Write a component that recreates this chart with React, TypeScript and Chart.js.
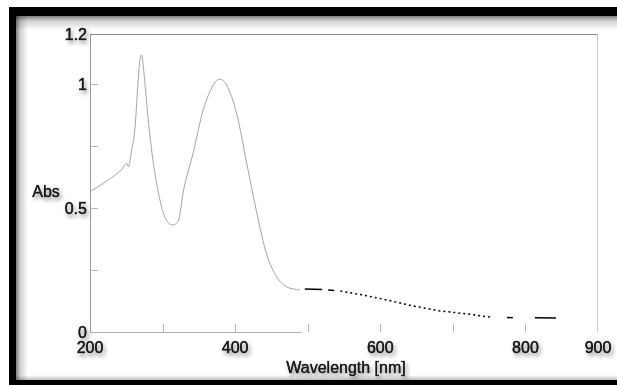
import React, { useEffect, useRef } from "react";
import { Chart, registerables } from "chart.js";

Chart.register(...registerables);

// Measured spectrum (grey solid part)
const solidWavelengths = [200, 225, 243, 251, 253, 257, 262, 265, 268, 271, 275, 280, 287, 294, 298, 303, 313, 322, 329, 342, 356, 370, 378, 388, 402, 416, 430, 443, 457, 471, 489];
const solidAbs = [0.565, 0.612, 0.652, 0.679, 0.666, 0.726, 0.82, 0.954, 1.075, 1.116, 1.023, 0.862, 0.686, 0.565, 0.511, 0.464, 0.431, 0.451, 0.572, 0.72, 0.894, 0.995, 1.018, 0.995, 0.881, 0.679, 0.478, 0.317, 0.223, 0.182, 0.169];

// Dashed continuation
const dashWavelengths = [496, 520, 545, 576, 609, 645, 682, 719, 751, 775, 813, 842];
const dashAbs = [0.173, 0.171, 0.165, 0.149, 0.129, 0.105, 0.085, 0.073, 0.06, 0.058, 0.057, 0.056];

const xTickLabels = [200, 400, 600, 800, 900];
const xMinorTicks = [300, 400, 500, 600, 700, 800];
const yTickLabels = [0, 0.5, 1, 1.2];
const yMinorTicks = [0.25, 0.5, 0.75, 1];

const xTitle = "Wavelength [nm]";
const yTitle = "Abs";

const FONT = '"Liberation Sans", Arial, sans-serif';

function shadowText(ctx: CanvasRenderingContext2D, text: string, x: number, y: number) {
  ctx.save();
  ctx.shadowColor = "rgba(0,0,0,0.6)";
  ctx.shadowBlur = 4;
  ctx.shadowOffsetX = 2;
  ctx.shadowOffsetY = 3;
  ctx.fillText(text, x, y);
  ctx.restore();
  ctx.strokeText(text, x, y);
  ctx.fillText(text, x, y);
}

const decorPlugin = {
  id: "decor",
  beforeDraw(chart: any) {
    const ctx = chart.ctx as CanvasRenderingContext2D;
    const W = chart.width;
    const H = chart.height;
    const ca = chart.chartArea;
    const xs = chart.scales.x;
    const ys = chart.scales.y;
    ctx.save();
    ctx.fillStyle = "#ffffff";
    ctx.fillRect(0, 0, W, H);

    // inner shadows of the frame
    let g = ctx.createLinearGradient(0, 16, 0, 30);
    g.addColorStop(0, "rgba(0,0,0,0.5)");
    g.addColorStop(0.35, "rgba(0,0,0,0.18)");
    g.addColorStop(1, "rgba(0,0,0,0)");
    ctx.fillStyle = g;
    ctx.fillRect(16, 16, W - 16, 14);
    g = ctx.createLinearGradient(16, 0, 28, 0);
    g.addColorStop(0, "rgba(0,0,0,0.5)");
    g.addColorStop(0.35, "rgba(0,0,0,0.18)");
    g.addColorStop(1, "rgba(0,0,0,0)");
    ctx.fillStyle = g;
    ctx.fillRect(16, 16, 12, H - 16);
    g = ctx.createLinearGradient(0, 380, 0, 375);
    g.addColorStop(0, "rgba(0,0,0,0.25)");
    g.addColorStop(1, "rgba(0,0,0,0)");
    ctx.fillStyle = g;
    ctx.fillRect(16, 375, W - 16, 5);

    // black frame
    ctx.fillStyle = "#000000";
    ctx.fillRect(9, 7, W - 9, 9);
    ctx.fillRect(9, 7, 7, H - 7);
    ctx.fillRect(9, 380, W - 9, 5);

    // plot box
    ctx.lineWidth = 1;
    ctx.strokeStyle = "#9a9a9a";
    ctx.beginPath();
    ctx.moveTo(ca.left + 0.5, ca.top);
    ctx.lineTo(ca.left + 0.5, ca.bottom);
    ctx.stroke();
    ctx.strokeStyle = "#8a8a8a";
    ctx.beginPath();
    ctx.moveTo(ca.left, ca.top + 0.5);
    ctx.lineTo(ca.right, ca.top + 0.5);
    ctx.stroke();
    ctx.strokeStyle = "#c4c4c4";
    ctx.beginPath();
    ctx.moveTo(ca.right - 0.5, ca.top);
    ctx.lineTo(ca.right - 0.5, ca.bottom);
    ctx.stroke();
    ctx.strokeStyle = "#b0b0b0";
    ctx.beginPath();
    ctx.moveTo(ca.left, ca.bottom + 0.5);
    ctx.lineTo(xs.getPixelForValue(500) - 6, ca.bottom + 0.5);
    ctx.stroke();

    // minor ticks (inward)
    ctx.strokeStyle = "#b5b5b5";
    for (const v of xMinorTicks) {
      const px = Math.round(xs.getPixelForValue(v)) + 0.5;
      ctx.beginPath();
      ctx.moveTo(px, ca.bottom);
      ctx.lineTo(px, ca.bottom - 8);
      ctx.stroke();
    }
    for (const v of yMinorTicks) {
      const py = Math.round(ys.getPixelForValue(v)) + 0.5;
      ctx.beginPath();
      ctx.moveTo(ca.left, py);
      ctx.lineTo(ca.left + 8, py);
      ctx.stroke();
    }
    ctx.restore();
  },
  afterDraw(chart: any) {
    const ctx = chart.ctx as CanvasRenderingContext2D;
    const ca = chart.chartArea;
    const xs = chart.scales.x;
    const ys = chart.scales.y;
    ctx.save();
    ctx.fillStyle = "#1a1a1a";
    ctx.strokeStyle = "rgba(26,26,26,0.6)";
    ctx.lineWidth = 0.5;
    ctx.font = `16px ${FONT}`;
    ctx.textBaseline = "middle";
    ctx.textAlign = "right";
    for (const v of yTickLabels) {
      shadowText(ctx, String(v), ca.left - 3, ys.getPixelForValue(v) + 1.5);
    }
    ctx.textAlign = "center";
    for (const v of xTickLabels) {
      shadowText(ctx, String(v), xs.getPixelForValue(v), ca.bottom + 17);
    }
    ctx.lineWidth = 0.3;
    shadowText(ctx, xTitle, (ca.left + ca.right) / 2 + 2, ca.bottom + 37);
    shadowText(ctx, yTitle, 46, ys.getPixelForValue(0.56));
    ctx.restore();
  },
};

export default function App() {
  const ref = useRef<HTMLCanvasElement | null>(null);
  useEffect(() => {
    if (!ref.current) return;
    const solidData = solidWavelengths.map((x, i) => ({ x, y: solidAbs[i] }));
    const dashData = dashWavelengths.map((x, i) => ({ x, y: dashAbs[i] }));
    const dashFor = (ctx: any) => {
      const x0 = ctx.p0.parsed.x;
      if (x0 < 520) return [];
      if (x0 < 545) return [0, 6, 6, 20];
      if (x0 < 751) return [2, 3];
      if (x0 < 813) return [0, 17, 6, 100];
      return [];
    };
    const chart = new Chart(ref.current, {
      type: "line",
      data: {
        datasets: [
          {
            data: solidData,
            borderColor: "#a4a4a4",
            borderWidth: 1,
            pointRadius: 0,
            cubicInterpolationMode: "monotone",
            fill: false,
          },
          {
            data: dashData,
            borderColor: "#000000",
            borderWidth: 1.5,
            pointRadius: 0,
            tension: 0,
            fill: false,
            segment: { borderDash: dashFor },
          },
        ],
      },
      options: {
        responsive: false,
        animation: false,
        devicePixelRatio: 1,
        layout: { padding: { left: 90, right: 19, top: 34, bottom: 53 } },
        plugins: { legend: { display: false }, tooltip: { enabled: false } },
        scales: {
          x: { type: "linear", min: 200, max: 900, display: false },
          y: { type: "linear", min: 0, max: 1.2, display: false },
        },
      },
      plugins: [decorPlugin],
    } as any);
    return () => chart.destroy();
  }, []);
  return (
    <div style={{ position: "fixed", left: 0, top: 0, width: 617, height: 385 }}>
      <canvas ref={ref} width={617} height={385} style={{ width: 617, height: 385, display: "block" }} />
    </div>
  );
}
